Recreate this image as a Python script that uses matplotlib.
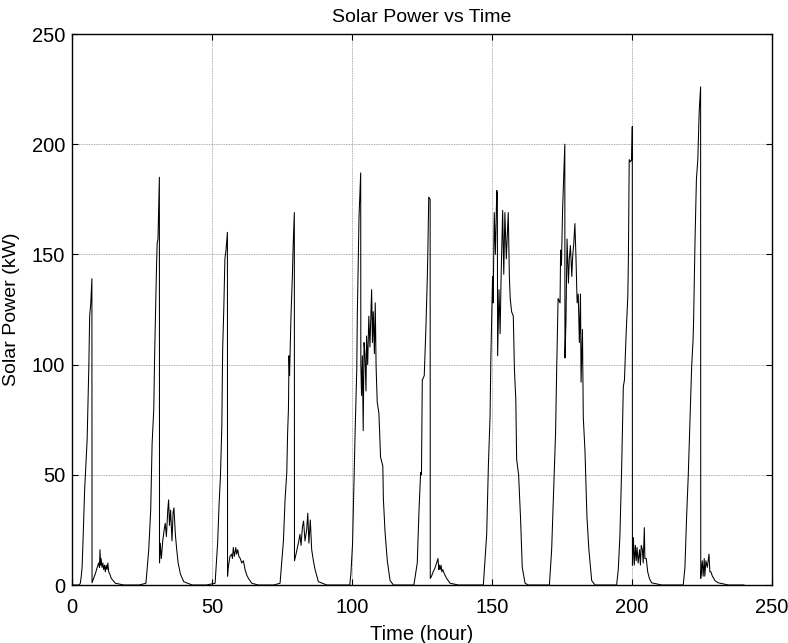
import matplotlib
matplotlib.use("Agg")
import matplotlib.pyplot as plt

plt.rcParams.update({"font.family": ["Liberation Sans", "DejaVu Sans"], "font.size": 14.5})

# hourly solar output, one block per day
day1_hour = [0, 2.6, 3.0, 3.3, 3.6, 3.9, 4.5, 5.4, 6.0, 6.3, 6.7, 7.1, 7.15, 7.7, 8.3, 8.9, 9.5, 9.8, 10.0, 10.2,
             10.4, 10.7, 11.0, 11.3, 11.6, 11.9, 12.2, 12.5, 12.8, 13.1, 13.5, 14.0, 15.5, 18.5]
day1_kw = [0, 0, 1, 4, 8, 19, 43, 66, 99, 122, 128, 139, 1, 3, 5, 7.6, 10, 8, 16, 9,
           12, 8, 10, 7, 9, 6, 9, 7, 10, 6, 5, 3, 0.8, 0]

day2_hour = [24, 26.4, 27.4, 28.1, 28.6, 29.2, 29.5, 29.8, 30.1, 30.4, 30.7, 31.2, 31.25, 31.5, 31.9, 32.4,
             32.9, 33.3, 33.7, 34.2, 34.5, 34.8, 35.2, 35.7, 36.1, 36.4, 36.9, 37.4, 37.9, 38.7, 39.9, 42.9]
day2_kw = [0, 0.8, 16, 34, 64, 80, 104, 122, 140, 155, 157, 185, 10, 19, 12, 20,
           25, 28, 22, 34, 38.6, 27, 34, 20, 33, 35, 23, 16, 10, 5, 1.5, 0]

day3_hour = [48, 51.1, 52.0, 52.5, 53.0, 53.5, 53.8, 54.2, 54.6, 55.0, 55.5, 55.55, 55.8, 56.4, 57.0, 57.3,
             57.6, 58.0, 58.5, 58.8, 59.2, 59.6, 60.1, 60.6, 61.2, 61.8, 62.4, 63.0, 64.2, 66.5]
day3_kw = [0, 0.8, 19, 36, 49, 72, 107, 125, 148, 152, 160, 4, 8, 13, 14, 12,
           17, 13, 17, 14, 16, 13, 12, 10, 11, 7, 4.5, 3, 0.8, 0]

day4_hour = [72, 74.3, 75.5, 76.1, 76.7, 77.0, 77.3, 77.5, 77.7, 78.2, 78.7, 79.0, 79.4, 79.45, 80.0, 80.5,
             81.0, 81.4, 81.8, 82.3, 82.7, 83.2, 83.8, 84.2, 84.6, 85.1, 85.6, 86.2, 86.8, 88.0, 91.0]
day4_kw = [0, 0.8, 20, 39, 51, 69, 80, 104, 95, 122, 140, 155, 169, 11, 14, 17,
           20, 23, 18, 26.5, 29, 20, 25, 32.6, 19, 29.5, 16, 11, 7, 1.5, 0]

day5_hour = [96, 99.2, 99.6, 100.2, 101.1, 101.7, 101.9, 102.5, 103.1, 103.15, 103.4, 103.7, 104.0, 104.3,
             104.6, 105.0, 105.2, 105.6, 106.0, 106.4, 107.0, 107.3, 107.6, 108.0, 108.3, 108.6, 109.0,
             109.6, 110.2, 111.0, 111.2, 111.8, 112.6, 113.6, 114.8]
day5_kw = [0, 0, 5, 19, 69, 98, 123, 167, 187, 100, 86, 104, 70, 110,
           105, 88, 113, 100, 122, 108, 134, 110, 124, 105, 128, 99, 83,
           78, 58, 54, 39, 24, 11, 2, 0]

day6_hour = [120, 122.1, 123.3, 123.9, 124.5, 124.8, 125.1, 125.8, 126.4, 126.9, 127.1, 127.4, 127.9, 127.95,
             128.4, 129.0, 129.6, 130.2, 130.7, 131.0, 131.2, 131.5, 131.8, 132.1, 132.4, 133.0, 133.8, 135.0, 138.0]
day6_kw = [0, 0, 10, 33, 51, 50, 93, 95, 117, 140, 152, 176, 175, 3,
           4, 6, 7.6, 10, 12, 7, 9, 7, 9, 6, 7, 5, 3, 0.8, 0]

day7_hour = [144, 146.9, 148.1, 148.7, 149.3, 149.6, 150.1, 150.2, 150.4, 150.8, 151.2, 151.7, 151.9, 152.0,
             152.5, 152.9, 153.2, 153.8, 154.2, 154.6, 155.1, 155.6, 155.8, 156.2, 156.5, 157.0, 157.6, 158.0,
             158.5, 158.8, 159.5, 160.2, 160.8, 161.8, 163.0]
day7_kw = [0, 0, 23, 54, 76.5, 104, 132.6, 140, 128, 169, 150, 179, 178, 104,
           134, 114, 137, 170, 141, 169, 148, 163, 169, 140, 130, 124, 122, 98,
           84, 57, 50, 30, 8, 0.8, 0]

day8_hour = [168, 170.5, 171.3, 172.1, 172.7, 173.1, 173.6, 174.3, 174.5, 174.8, 175.2, 176.0, 176.05, 176.4,
             176.8, 177.3, 177.6, 178.0, 178.5, 178.8, 179.2, 179.6, 180.0, 180.4, 180.8, 181.2, 181.6, 181.8,
             182.3, 182.6, 183.2, 183.9, 184.6, 185.6, 186.8]
day8_kw = [0, 0, 16, 46, 69, 98, 130, 128, 152, 145, 170, 200, 103, 119,
           157, 137, 148, 154, 140, 149, 155, 164, 148, 128, 132, 110, 132, 92,
           116, 76, 61, 31, 16, 2, 0]

day9_hour = [192, 194.5, 195.1, 195.7, 196.3, 196.9, 197.3, 197.9, 198.5, 198.7, 199.0, 199.4, 199.9, 200.1,
             200.15, 200.5, 200.8, 201.2, 201.5, 201.8, 202.2, 202.7, 203.0, 203.3, 203.7, 204.0, 204.4, 204.6,
             205.1, 205.6, 206.2, 207.0, 210.6]
day9_kw = [0, 0, 7, 23, 53, 90, 93, 114, 131, 147, 193, 192, 193, 208,
           9, 21.5, 9, 18, 11, 17, 10, 16, 9, 18, 16, 10, 26, 12,
           12, 6, 3, 1, 0]

day10_hour = [216, 218.3, 218.9, 219.5, 220.1, 220.7, 221.3, 221.8, 222.0, 222.5, 223.0, 223.5, 224.0, 224.5,
              224.55, 224.8, 225.1, 225.4, 225.8, 226.0, 226.4, 226.9, 227.5, 227.8, 228.2, 228.7, 229.2, 229.6,
              230.8, 234.4, 240]
day10_kw = [0, 0, 8, 31, 50, 75, 99, 111, 120, 156, 184, 193, 215, 226,
            3, 7, 11, 4, 12, 4, 11, 8, 14, 6, 6, 4, 3, 2,
            1, 0, 0]

hours = (day1_hour + day2_hour + day3_hour + day4_hour + day5_hour +
         day6_hour + day7_hour + day8_hour + day9_hour + day10_hour)
power = (day1_kw + day2_kw + day3_kw + day4_kw + day5_kw +
         day6_kw + day7_kw + day8_kw + day9_kw + day10_kw)

ticks = [0, 50, 100, 150, 200, 250]

fig = plt.figure(figsize=(7.88, 6.43), dpi=100)
ax = fig.add_axes([0.0914, 0.0902, 0.8883, 0.8569])
ax.plot(hours, power, color="black", linewidth=0.75)

ax.set_xlim(0, 250)
ax.set_ylim(0, 250)
ax.set_xticks(ticks)
ax.set_yticks(ticks)
ax.grid(True, color="#909090", linestyle=(0, (1, 1)), linewidth=0.6)
ax.tick_params(direction="in", top=True, right=True, length=4, width=0.8)
ax.tick_params(axis="x", pad=9)
ax.tick_params(axis="y", pad=5)
for s in ax.spines.values():
    s.set_linewidth(1.0)

ax.set_title("Solar Power vs Time", fontsize=14, pad=9)
ax.set_xlabel("Time (hour)", labelpad=6)
ax.set_ylabel("Solar Power (kW)", fontsize=14)
ax.yaxis.set_label_coords(-0.075, 0.5)

fig.savefig("out.png", dpi=100)
